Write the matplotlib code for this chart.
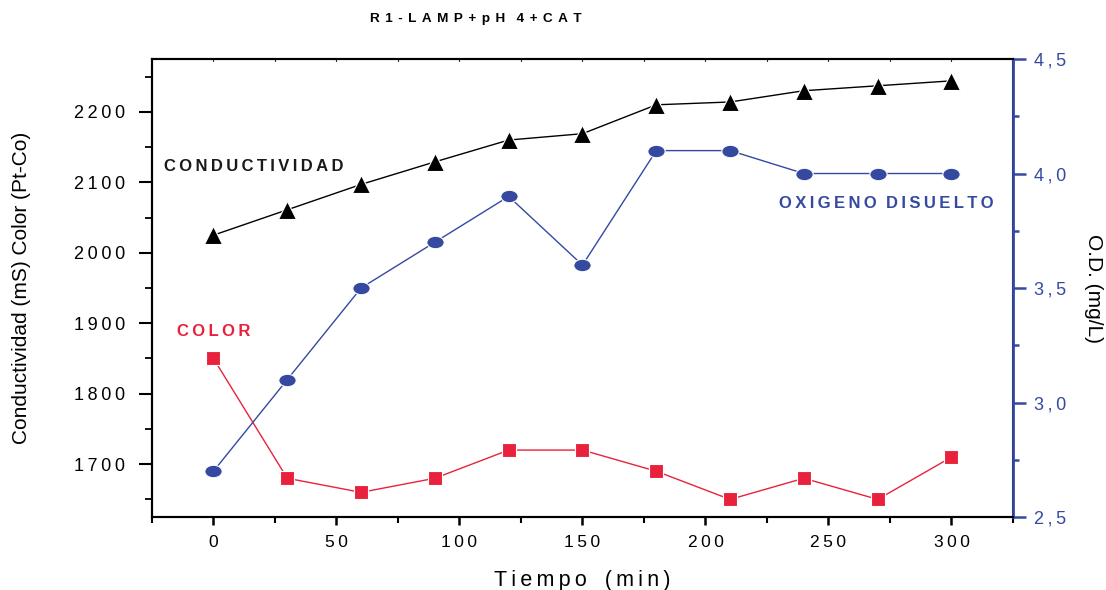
import numpy as np
import matplotlib
matplotlib.use("Agg")
import matplotlib.pyplot as plt
from matplotlib.path import Path
from matplotlib.transforms import Affine2D
from matplotlib.ticker import MultipleLocator, FuncFormatter

plt.rcParams['font.family'] = ['Liberation Sans', 'DejaVu Sans']

tiempo = [0, 30, 60, 90, 120, 150, 180, 210, 240, 270, 300]
conductividad = [2025, 2061, 2097, 2129, 2160, 2169, 2210, 2214, 2230, 2237, 2244]
color = [1850, 1680, 1660, 1680, 1720, 1720, 1690, 1650, 1680, 1650, 1710]
oxigeno = [2.7, 3.1, 3.5, 3.7, 3.9, 3.6, 4.1, 4.1, 4.0, 4.0, 4.0]

RED = '#e8223c'
BLUE = '#3549a0'
SP = '\u2009'


def spaced(s, gap=SP):
    return gap.join(s)


# flattened circle marker for the oxygen series
ellipse = Path.unit_circle().transformed(Affine2D().scale(1.0, 0.72))

fig = plt.figure(figsize=(11.06, 5.90), dpi=100)
ax = fig.add_axes([0.1374, 0.1237, 0.9159 - 0.1374, 0.9 - 0.1237])
ax2 = ax.twinx()

ax.plot(tiempo, conductividad, color='black', lw=1.0, marker='^', ms=13,
        mec='white', mew=0.8, zorder=3)
ax.plot(tiempo, color, color=RED, lw=1.0, marker='s', ms=10,
        mec='white', mew=0.8, zorder=3)
ax2.plot(tiempo, oxigeno, color=BLUE, lw=1.0, marker=ellipse, ms=12.5,
         mec='white', mew=0.8, zorder=3)

ax.set_xlim(-25, 325)
ax.set_ylim(1625, 2275)
ax2.set_ylim(2.5, 4.5)

ax.xaxis.set_major_locator(MultipleLocator(50))
ax.xaxis.set_minor_locator(MultipleLocator(25))
ax.yaxis.set_major_locator(MultipleLocator(100))
ax.yaxis.set_minor_locator(MultipleLocator(50))
ax2.yaxis.set_major_locator(MultipleLocator(0.5))
ax2.yaxis.set_minor_locator(MultipleLocator(0.25))

ax.xaxis.set_major_formatter(FuncFormatter(lambda v, p: spaced(f"{v:.0f}")))
ax.yaxis.set_major_formatter(FuncFormatter(lambda v, p: spaced(f"{v:.0f}")))
ax2.yaxis.set_major_formatter(
    FuncFormatter(lambda v, p: spaced(f"{v:.1f}".replace('.', ','))))

for a in (ax, ax2):
    for s in a.spines.values():
        s.set_linewidth(1.5)
ax2.spines['right'].set_color(BLUE)
ax2.spines['right'].set_linewidth(2.0)

ax.tick_params(axis='y', which='major', direction='out', length=9.4, width=1.5,
               labelsize=13, colors='black', pad=10)
ax.tick_params(axis='y', which='minor', direction='out', length=5, width=1.3)
ax.tick_params(axis='x', which='major', direction='out', length=6, width=1.8,
               labelsize=12.5, colors='black', pad=7)
ax.tick_params(axis='x', which='minor', direction='out', length=4, width=1.5)
ax2.tick_params(axis='y', which='major', direction='out', length=9.4, width=1.8,
                labelsize=13, colors=BLUE, pad=6)
ax2.tick_params(axis='y', which='minor', direction='out', length=4.5, width=1.8,
                colors=BLUE)

# short inward ticks along the top edge
for xv in np.arange(0, 326, 25):
    ax.plot([xv, xv], [2275, 2272], color='#333333', lw=0.8, clip_on=False)

ax.set_xlabel(spaced("Tiempo") + "   " + spaced("(min)"), fontsize=15.5,
              labelpad=14)
ax.set_ylabel("Conductividad (mS) Color (Pt-Co)", fontsize=15, labelpad=31)
ax2.set_ylabel("O.D. (mg/L)", fontsize=15, rotation=-90, labelpad=26,
               color='black')

fig.text(0.43, 0.967, spaced("R1-LAMP+pH", SP * 2) + "   " + spaced("4+CAT", SP * 2),
         fontsize=9.7, fontweight='bold', ha='center', va='center')

ax.text(-20, 2123, spaced("CONDUCTIVIDAD"), fontsize=12, fontweight='bold',
        color='#1a1a1a', va='center')
ax.text(-15, 1888, spaced("COLOR"), fontsize=12, fontweight='bold',
        color=RED, va='center')
ax2.text(230, 3.87, spaced("OXIGENO") + "  " + spaced("DISUELTO"),
         fontsize=12, fontweight='bold', color=BLUE, va='center')

fig.savefig("out.png", dpi=100)
